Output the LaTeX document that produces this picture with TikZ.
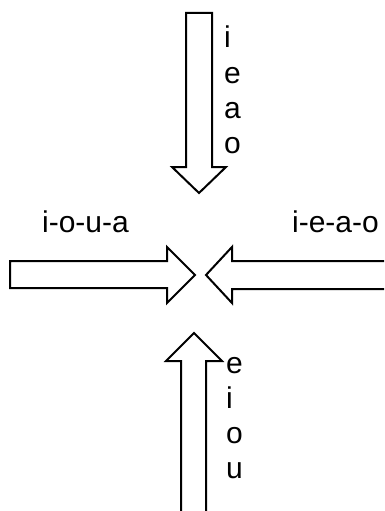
\documentclass[tikz,border=0pt]{standalone}
\usepackage{fontspec}
\setmainfont{Liberation Sans}
\usepackage{tikz}
\usetikzlibrary{positioning,calc}
\tikzset{
    blockarrow/.style={draw, line width=2pt, fill=white, line join=miter},
    vowel/.style={inner sep=0pt, font=\fontsize{30}{35}\selectfont}
}

\begin{document}
\begin{tikzpicture}[x=1pt, y=-1pt]
    \useasboundingbox (0,0) rectangle (384,511);
    \clip (0,0) rectangle (384,511);
    % arrow from the top
    \draw[blockarrow] (186,13) -- (212,13) -- (212,167) -- (226,167) -- (199,193)
        -- (172,167) -- (186,167) -- cycle;
    % arrow from the left
    \draw[blockarrow] (10,261) -- (167,261) -- (167,247) -- (195,275) -- (167,303)
        -- (167,288) -- (10,288) -- cycle;
    % arrow from the right
    \draw[blockarrow] (400,261) -- (232,261) -- (232,247) -- (206,275) -- (232,303)
        -- (232,289) -- (400,289);
    % arrow from the bottom
    \draw[blockarrow] (181,530) -- (181,361) -- (166,361) -- (194,333) -- (222,361)
        -- (206,361) -- (206,530);
    % labels
    \foreach \c [count=\i] in {i,e,a,o}
        \node[vowel, anchor=base west] (top\i) at (224,13+35*\i) {\c};
    \foreach \c [count=\i] in {e,i,o,u}
        \node[vowel, anchor=base west] (bot\i) at (226,338+35*\i) {\c};
    \node[vowel, anchor=base] (leftlbl) at (85.5,232) {i-o-u-a};
    \node[vowel, anchor=base] (rightlbl) at (335.5,232) {i-e-a-o};
\end{tikzpicture}
\end{document}
